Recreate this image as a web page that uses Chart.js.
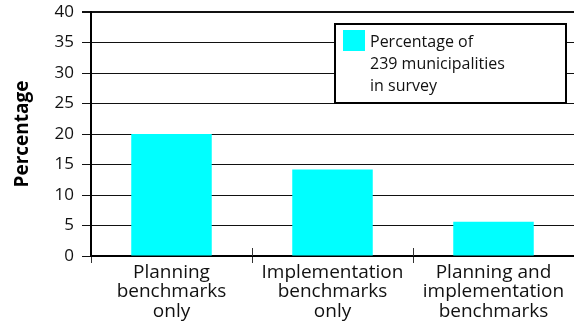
<!DOCTYPE html>
<html>
<head>
<meta charset="utf-8">
<script src="https://cdn.jsdelivr.net/npm/chart.js@4"></script>
<style>
  body { margin: 0; background: #fff; }
  #wrap { width: 574px; height: 326px; }
</style>
</head>
<body>
<div id="wrap"><canvas id="chart" width="574" height="326"></canvas></div>
<script>
// data
var categories = [
  ["Planning", "benchmarks", "only"],
  ["Implementation", "benchmarks", "only"],
  ["Planning and", "implementation", "benchmarks"]
];
var percentages = [20, 14.2, 5.6];
var seriesLabel = ["Percentage of", "239 municipalities", "in survey"];
var yMin = 0, yMax = 40, yStep = 5;

var FONT = "'Open Sans', sans-serif";

// boxed legend, top right inside the plot
var boxLegend = {
  id: 'boxLegend',
  afterDraw: function(chart) {
    var ctx = chart.ctx;
    var ca = chart.chartArea;
    var x = ca.right - 239, y = ca.top + 12, w = 231, h = 79;
    ctx.save();
    ctx.fillStyle = '#fff';
    ctx.fillRect(x, y, w, h);
    ctx.strokeStyle = '#000';
    ctx.lineWidth = 2;
    ctx.strokeRect(x, y, w, h);
    ctx.fillStyle = chart.data.datasets[0].backgroundColor;
    ctx.fillRect(x + 8, y + 6, 22, 21);
    ctx.fillStyle = '#111';
    ctx.font = '16px ' + FONT;
    ctx.textBaseline = 'middle';
    for (var i = 0; i < seriesLabel.length; i++) {
      ctx.fillText(seriesLabel[i], x + 35, y + 18 + i * 22);
    }
    ctx.restore();
  }
};

// small category divider ticks that cross the x axis upward
var crossTicks = {
  id: 'crossTicks',
  afterDraw: function(chart) {
    var ctx = chart.ctx;
    var xs = chart.scales.x;
    var bottom = chart.chartArea.bottom;
    ctx.save();
    ctx.strokeStyle = '#333';
    ctx.lineWidth = 1;
    for (var i = 1; i < categories.length; i++) {
      var px = (xs.getPixelForValue(i - 1) + xs.getPixelForValue(i)) / 2;
      ctx.beginPath();
      ctx.moveTo(Math.round(px) + 0.5, bottom - 8);
      ctx.lineTo(Math.round(px) + 0.5, bottom);
      ctx.stroke();
    }
    ctx.restore();
  }
};

new Chart(document.getElementById('chart'), {
  type: 'bar',
  data: {
    labels: categories,
    datasets: [{
      label: seriesLabel.join(' '),
      data: percentages,
      backgroundColor: '#00ffff',
      borderWidth: 0,
      barPercentage: 0.5,
      categoryPercentage: 1
    }]
  },
  options: {
    responsive: false,
    animation: false,
    layout: { padding: { top: 12, right: 0, left: 0, bottom: 0 } },
    plugins: {
      legend: { display: false },
      tooltip: { enabled: false }
    },
    scales: {
      x: {
        afterFit: function(s) { s.height = 70; },
        grid: {
          offset: true,
          drawOnChartArea: false,
          color: '#333',
          tickLength: 7,
          lineWidth: 1
        },
        border: { color: '#000', width: 2 },
        ticks: {
          color: '#111',
          padding: 0,
          font: { family: FONT, size: 19, lineHeight: 1.02 },
          maxRotation: 0,
          autoSkip: false
        }
      },
      y: {
        min: yMin,
        max: yMax,
        afterFit: function(s) { s.width = 91; s.paddingTop = 0; s.paddingBottom = 0; },
        grid: {
          color: '#111',
          tickLength: 9,
          lineWidth: function(c) { return c.tick && c.tick.value === yMax ? 2 : 1; }
        },
        border: { color: '#000', width: 2 },
        ticks: {
          stepSize: yStep,
          color: '#111',
          padding: 8,
          font: { family: FONT, size: 17 }
        },
        title: {
          display: true,
          text: 'Percentage',
          color: '#000',
          padding: { top: 11, bottom: 0 },
          font: { family: FONT, size: 19, weight: 'bold' }
        }
      }
    }
  },
  plugins: [boxLegend, crossTicks]
});
</script>
</body>
</html>
